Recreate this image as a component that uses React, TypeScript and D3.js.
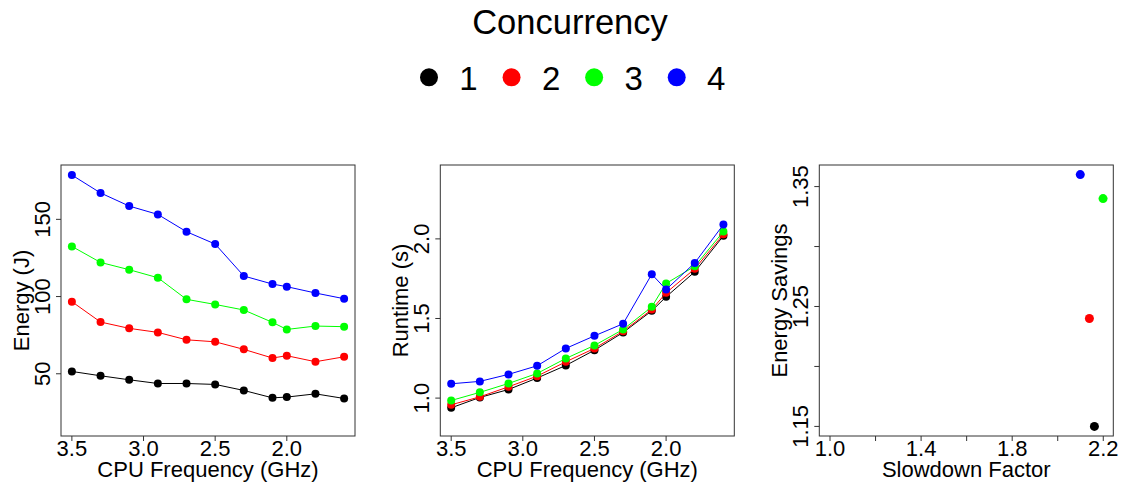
import React, { useEffect, useRef } from 'react';
import * as d3 from 'd3';

// CPU frequencies (GHz), shared by the first two panels
const freqs = [3.5, 3.3, 3.1, 2.9, 2.7, 2.5, 2.3, 2.1, 2.0, 1.8, 1.6];
const concurrency = ['1', '2', '3', '4'];
const colors = ['#000000', '#ff0000', '#00ff00', '#0000ff'];

// Energy (J) per concurrency level
const energy1 = [51.5, 48.7, 46.1, 43.7, 43.7, 43.1, 39.2, 34.4, 34.9, 37.0, 34.0];
const energy2 = [96.7, 83.5, 79.4, 76.8, 72.0, 70.7, 65.8, 60.2, 61.7, 57.8, 61.0];
const energy3 = [132.5, 122.1, 117.4, 112.2, 98.2, 94.9, 91.3, 83.3, 78.7, 80.9, 80.5];
const energy4 = [178.7, 167.1, 158.6, 153.2, 142.0, 134.0, 113.3, 108.1, 106.4, 102.3, 98.6];

// Runtime (s) per concurrency level
const runtime1 = [0.939, 1.004, 1.054, 1.126, 1.205, 1.301, 1.412, 1.548, 1.636, 1.793, 2.019];
const runtime2 = [0.958, 1.008, 1.071, 1.138, 1.228, 1.312, 1.420, 1.556, 1.661, 1.812, 2.029];
const runtime3 = [0.985, 1.036, 1.092, 1.155, 1.249, 1.331, 1.431, 1.573, 1.720, 1.828, 2.046];
const runtime4 = [1.090, 1.105, 1.149, 1.203, 1.312, 1.391, 1.467, 1.778, 1.682, 1.849, 2.090];

// Slowdown factor vs energy savings, one point per concurrency level
const slowdown = [2.161, 2.139, 2.199, 2.099];
const savings = [1.150, 1.240, 1.340, 1.360];

const freqTicks = [3.5, 3.0, 2.5, 2.0];
const energyTicks = [50, 100, 150];
const runtimeTicks = [1.0, 1.5, 2.0];
const slowTicks = [1.0, 1.2, 1.4, 1.6, 1.8, 2.0, 2.2];
const slowLabels = [1.0, 1.4, 1.8, 2.2];
const saveTicks = [1.15, 1.2, 1.25, 1.3, 1.35];
const saveLabels = [1.15, 1.25, 1.35];

const W = 1122;
const H = 483;
const FONT = '"Liberation Sans", Arial, Helvetica, sans-serif';

const App: React.FC = () => {
  const svgRef = useRef<SVGSVGElement>(null);

  useEffect(() => {
    if (!svgRef.current) return;
    const svg = d3.select(svgRef.current);
    svg.selectAll('*').remove();

    const top = 165;
    const bottom = 436;
    const pw = 294;

    const panel = (
      left: number,
      xDomain: [number, number],
      yDomain: [number, number],
      xTicks: number[],
      xLabels: number[],
      yTicks: number[],
      yLabels: number[],
      xFmt: (v: number) => string,
      yFmt: (v: number) => string,
      xTitle: string,
      yTitle: string
    ) => {
      const x = d3.scaleLinear().domain(xDomain).range([left, left + pw]);
      const y = d3.scaleLinear().domain(yDomain).range([bottom, top]);
      const g = svg.append('g');

      g.append('rect')
        .attr('x', left).attr('y', top)
        .attr('width', pw).attr('height', bottom - top)
        .attr('fill', 'none')
        .attr('stroke', '#333')
        .attr('stroke-width', 1);

      xTicks.forEach(t => {
        g.append('line')
          .attr('x1', x(t)).attr('x2', x(t))
          .attr('y1', bottom).attr('y2', bottom + 5)
          .attr('stroke', '#333');
      });
      xLabels.forEach(t => {
        g.append('text')
          .attr('x', x(t)).attr('y', 456)
          .attr('text-anchor', 'middle')
          .style('font-size', '22px')
          .text(xFmt(t));
      });
      yTicks.forEach(t => {
        g.append('line')
          .attr('x1', left - 5).attr('x2', left)
          .attr('y1', y(t)).attr('y2', y(t))
          .attr('stroke', '#333');
      });
      yLabels.forEach(t => {
        g.append('text')
          .attr('transform', `translate(${left - 19},${y(t)}) rotate(-90)`)
          .attr('text-anchor', 'middle')
          .attr('dy', '0.35em')
          .style('font-size', '22px')
          .text(yFmt(t));
      });

      g.append('text')
        .attr('x', left + pw / 2).attr('y', 477)
        .attr('text-anchor', 'middle')
        .style('font-size', '22px')
        .text(xTitle);
      g.append('text')
        .attr('transform', `translate(${left - 40},${(top + bottom) / 2}) rotate(-90)`)
        .attr('text-anchor', 'middle')
        .attr('dy', '0.35em')
        .style('font-size', '22px')
        .text(yTitle);

      return { x, y, g };
    };

    const f1 = (v: number) => v.toFixed(1);
    const f0 = (v: number) => v.toFixed(0);
    const f2 = (v: number) => v.toFixed(2);

    const drawSeries = (p: { x: any; y: any; g: any }, series: number[][]) => {
      series.forEach((vals, i) => {
        const pts = freqs.map((f, j) => [f, vals[j]] as [number, number]);
        const line = d3.line<[number, number]>()
          .x(d => p.x(d[0]))
          .y(d => p.y(d[1]));
        p.g.append('path')
          .attr('d', line(pts))
          .attr('fill', 'none')
          .attr('stroke', colors[i])
          .attr('stroke-width', 1);
        pts.forEach(d => {
          p.g.append('circle')
            .attr('cx', p.x(d[0])).attr('cy', p.y(d[1]))
            .attr('r', 4)
            .attr('fill', colors[i]);
        });
      });
    };

    // Panel 1: energy
    const p1 = panel(61, [3.576, 1.524], [9.7, 185.2], freqTicks, freqTicks, energyTicks, energyTicks,
      f1, f0, 'CPU Frequency (GHz)', 'Energy (J)');
    drawSeries(p1, [energy1, energy2, energy3, energy4]);

    // Panel 2: runtime
    const p2 = panel(440.3, [3.576, 1.524], [0.762, 2.464], freqTicks, freqTicks, runtimeTicks, runtimeTicks,
      f1, f1, 'CPU Frequency (GHz)', 'Runtime (s)');
    drawSeries(p2, [runtime1, runtime2, runtime3, runtime4]);

    // Panel 3: slowdown vs savings
    const p3 = panel(819.3, [0.953, 2.244], [1.142, 1.368], slowTicks, slowLabels, saveTicks, saveLabels,
      f1, f2, 'Slowdown Factor', 'Energy Savings');
    slowdown.forEach((s, i) => {
      p3.g.append('circle')
        .attr('cx', p3.x(s)).attr('cy', p3.y(savings[i]))
        .attr('r', 4.5)
        .attr('fill', colors[i]);
    });

    // Legend
    svg.append('text')
      .attr('x', 570).attr('y', 34)
      .attr('text-anchor', 'middle')
      .style('font-size', '34.5px')
      .text('Concurrency');
    const legendX = d3.scalePoint<string>().domain(concurrency).range([429, 676.7]);
    concurrency.forEach((c, i) => {
      const cx = legendX(c) as number;
      svg.append('circle')
        .attr('cx', cx).attr('cy', 77.3)
        .attr('r', 9)
        .attr('fill', colors[i]);
      svg.append('text')
        .attr('x', cx + 39.5).attr('y', 89.5)
        .attr('text-anchor', 'middle')
        .style('font-size', '33px')
        .text(c);
    });
  }, []);

  return (
    <svg
      ref={svgRef}
      width={W}
      height={H}
      style={{ position: 'absolute', left: 0, top: 0, background: '#fff', fontFamily: FONT }}
    />
  );
};

export default App;
